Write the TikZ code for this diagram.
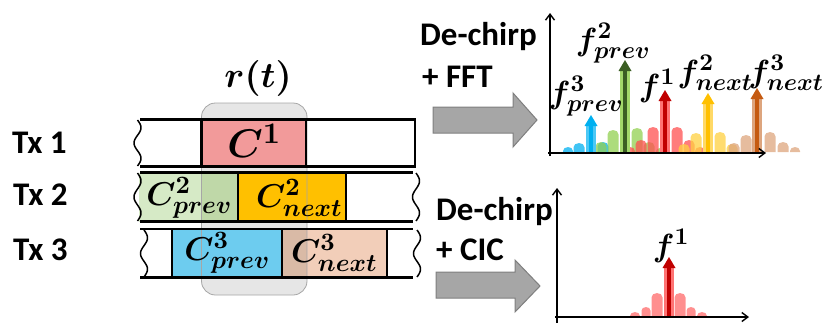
\documentclass[tikz,border=0pt]{standalone}
\usepackage{amsmath}
\usepackage{bm}
\usepackage[no-math]{fontspec}
\setmainfont{Carlito}
\usetikzlibrary{arrows.meta}
% scalable Computer Modern math fonts for the large formulas
\DeclareFontShape{OML}{cmm}{m}{it}{<->cmmi10}{}
\DeclareFontShape{OML}{cmm}{b}{it}{<->cmmib10}{}
\DeclareFontShape{OT1}{cmr}{m}{n}{<->cmr10}{}
\DeclareFontShape{OT1}{cmr}{bx}{n}{<->cmbx10}{}
\DeclareFontShape{OMS}{cmsy}{m}{n}{<->cmsy10}{}
\DeclareFontShape{OMS}{cmsy}{b}{n}{<->cmbsy10}{}
\DeclareFontShape{OMX}{cmex}{m}{n}{<->cmex10}{}
% larger indices than the default ratios
\DeclareMathSizes{40}{40}{30}{24}
\DeclareMathSizes{36}{36}{27}{21}
\DeclareMathSizes{33}{33}{25}{20}
\DeclareMathSizes{32}{32}{24}{19}

\definecolor{cpink}{HTML}{F29A9A}
\definecolor{cgreen}{HTML}{D6EAC6}
\definecolor{cgreenD}{HTML}{BFD8A8}
\definecolor{corange}{HTML}{FFC000}
\definecolor{cblue}{HTML}{6DCCEF}
\definecolor{ctan}{HTML}{F2CEB9}
\definecolor{ctanD}{HTML}{D9BAA6}
\definecolor{cwin}{HTML}{E6E6E6}
\definecolor{cwinB}{HTML}{A6A6A6}
\definecolor{cbig}{HTML}{A6A6A6}
\definecolor{cbigB}{HTML}{7F7F7F}
\definecolor{sblue}{HTML}{00B0F0}
\definecolor{sgreen}{HTML}{92D050}
\definecolor{sgreenD}{HTML}{3B5E23}
\definecolor{sred}{HTML}{FF5050}
\definecolor{sredD}{HTML}{C00000}
\definecolor{syellow}{HTML}{FFC000}
\definecolor{stan}{HTML}{DDA57E}
\definecolor{sbrown}{HTML}{C55A11}

% one side lobe: colour, centre x, half width, height, base line y
\newcommand\lobe[5]{%
  \fill[#1] ({#2-#3},#5) -- ({#2-#3},{#5-#4+0.8*#3}) arc[start angle=180,end angle=0,x radius=#3pt,y radius={0.8*#3pt}] -- ({#2+#3},#5) -- cycle;}
% one spectral peak: light colour, dark colour, x, tip y, base line y
\newcommand\peak[5]{%
  \fill[#1] ({#3-5},#5) rectangle ({#3+5},{#4+9});
  \fill[#2] ({#3-2.3},#5) rectangle ({#3+2.3},{#4+9});
  \fill[#2] ({#3-6.5},{#4+11}) -- (#3,#4) -- ({#3+6.5},{#4+11}) -- cycle;}
% wavy cut at the open end of a frame
\newcommand\cut[3]{%
  \draw[cutline] plot[domain=0:1,samples=40] ({#1+3.5*sin(540*\x)},{#2+(#3-#2)*\x});}

\tikzset{
  rowline/.style={line width=2.8pt},
  cutline/.style={line width=1.5pt},
  lbl/.style={font=\fontsize{33}{38}\selectfont\bfseries,inner sep=0pt},
  mth/.style={inner sep=0pt,font=\fontsize{36}{42}\selectfont},
  cbox/.style={inner sep=0pt,font=\fontsize{33}{38}\selectfont},
  fl/.style={inner sep=0pt,font=\fontsize{32}{38}\selectfont},
  bigarrow/.style={fill=cbig,draw=cbigB,line width=1pt,line join=miter},
  axis/.style={line width=1.5pt,-{Straight Barb[length=6pt,width=9pt,line width=1.4pt]}},
}

\begin{document}
\begin{tikzpicture}[x=1pt,y=-1pt]
\useasboundingbox (0,0) rectangle (823,322);

% receive window r(t)
\fill[cwin,rounded corners=14pt] (201.5,103) rectangle (307,295);

% coloured symbols
\fill[cpink] (201.7,119.5) rectangle (306,166.5);
\fill[cgreen] (139,172.5) rectangle (201.5,221.5);
\fill[cgreenD] (201.5,172.5) rectangle (238,221.5);
\fill[corange] (238,172.5) rectangle (346,221.5);
\fill[cblue] (172,229) rectangle (282,277.5);
\fill[ctanD] (282,229) rectangle (307,277.5);
\fill[ctan] (307,229) rectangle (387,277.5);

% outline of the window
\draw[cwinB,line width=0.8pt,rounded corners=14pt] (201.5,103) rectangle (307,295);

% Tx 1 frame
\draw[rowline] (140,119.5) -- (415,119.5) -- (415,166.5) -- (140,166.5);
\draw[rowline] (201.7,119.5) -- (201.7,166.5);
\draw[rowline] (306,119.5) -- (306,166.5);
\cut{137.5}{120}{166}
% Tx 2 frame
\draw[rowline] (140,172.5) -- (413,172.5);
\draw[rowline] (140,221.5) -- (413,221.5);
\draw[rowline] (238,172.5) -- (238,221.5);
\draw[rowline] (346,172.5) -- (346,221.5);
\cut{137.5}{173}{221}
\cut{416}{173}{221}
% Tx 3 frame
\draw[rowline] (140,229) -- (413,229);
\draw[rowline] (140,277.5) -- (413,277.5);
\draw[rowline] (172,229) -- (172,277.5);
\draw[rowline] (282,229) -- (282,277.5);
\draw[rowline] (387,229) -- (387,277.5);
\cut{144}{230}{277}
\cut{417}{230}{277}

% labels of the frames
\node[lbl,anchor=base west] (tx1) at (12,153) {Tx 1};
\node[lbl,anchor=base west] (tx2) at (13,205) {Tx 2};
\node[lbl,anchor=base west] (tx3) at (13,260) {Tx 3};
\node[mth] (rt) at (258,78) {$\bm{r(t)}$};
\node[cbox,font=\fontsize{40}{46}\selectfont] (c1) at (254,141) {$\bm{C^{1}}$};
\node[cbox] (c2p) at (189,198) {$\bm{C^{2}_{prev}}$};
\node[cbox] (c2n) at (299,198) {$\bm{C^{2}_{next}}$};
\node[cbox] (c3p) at (227,253) {$\bm{C^{3}_{prev}}$};
\node[cbox] (c3n) at (334,253) {$\bm{C^{3}_{next}}$};

% processing arrows
\draw[bigarrow] (433,107) -- (513,107) -- (513,93) -- (537,120) -- (513,147) -- (513,133) -- (433,133) -- cycle;
\draw[bigarrow] (436,272) -- (515,272) -- (515,260) -- (540,286) -- (515,312) -- (515,298) -- (436,298) -- cycle;
\node[lbl,anchor=base west] (fft1) at (420,45) {De-chirp};
\node[lbl,anchor=base west] (fft2) at (422,87) {+ FFT};
\node[lbl,anchor=base west] (cic1) at (436,220) {De-chirp};
\node[lbl,anchor=base west] (cic2) at (436,260) {+ CIC};

% FFT spectrum: side lobes
\begin{scope}[fill opacity=0.75]
\lobe{sblue}{568}{5}{5}{152}
\lobe{sblue}{579}{5.5}{9}{152}
\lobe{sblue}{603}{5.5}{10}{152}
\lobe{sgreen}{590}{4}{4}{152}
\lobe{sgreen}{601}{5.5}{10}{152}
\lobe{sgreen}{613}{5.5}{22}{152}
\lobe{sgreen}{637}{5.5}{24}{152}
\lobe{sgreen}{649}{5.5}{10}{152}
\lobe{sgreen}{660}{4}{4}{152}
\lobe{sred}{630}{5}{5}{152}
\lobe{sred}{641}{5.5}{12}{152}
\lobe{sred}{653}{5.5}{25}{152}
\lobe{sred}{677}{5.5}{25}{152}
\lobe{sred}{689}{5.5}{12}{152}
\lobe{sred}{700}{5}{5}{152}
\lobe{syellow!75}{684}{5.5}{8}{152}
\lobe{syellow!75}{696}{5.5}{19}{152}
\lobe{syellow!75}{720}{5.5}{20}{152}
\lobe{syellow!75}{732}{5.5}{8}{152}
\lobe{stan}{734}{5.5}{9}{152}
\lobe{stan}{746}{5.5}{17}{152}
\lobe{stan}{770}{5.5}{20}{152}
\lobe{stan}{783}{5.5}{10}{152}
\lobe{stan}{795}{5}{5}{152}
\end{scope}
% FFT spectrum: peaks
\peak{sblue!70}{sblue}{591}{115}{152}
\peak{sgreen!85}{sgreenD}{625}{60}{152}
\peak{sred!80}{sredD}{665}{90}{152}
\peak{syellow!60}{syellow}{708}{93}{152}
\peak{stan}{sbrown}{757}{88}{152}
% FFT spectrum: axes
\coordinate (y1) at (550,13);
\coordinate (x1) at (766,153);
\draw[axis] (550,156) -- (y1);
\draw[axis] (548,153) -- (x1);
\node[fl] (fp3) at (586,96) {$\bm{f^{3}_{prev}}$};
\node[fl] (fp2) at (613,43) {$\bm{f^{2}_{prev}}$};
\node[fl] (fa1) at (657,86) {$\bm{f^{1}}$};
\node[fl] (fn2) at (715,73) {$\bm{f^{2}_{next}}$};
\node[fl] (fn3) at (786,73) {$\bm{f^{3}_{next}}$};

% CIC spectrum
\begin{scope}[fill opacity=0.75]
\lobe{sred!85}{635}{5}{4}{316}
\lobe{sred!85}{646}{4.5}{9}{316}
\lobe{sred!85}{657}{5.5}{23}{316}
\lobe{sred!85}{680}{5.5}{23}{316}
\lobe{sred!85}{691}{4.5}{9}{316}
\lobe{sred!85}{702}{5}{4}{316}
\end{scope}
\peak{sred!80}{sredD}{669}{257}{316}
\coordinate (y2) at (557,188);
\coordinate (x2) at (749,317);
\draw[axis] (557,323) -- (y2);
\draw[axis] (555,317) -- (x2);
\node[fl] (fb1) at (671,246) {$\bm{f^{1}}$};
\end{tikzpicture}
\end{document}
